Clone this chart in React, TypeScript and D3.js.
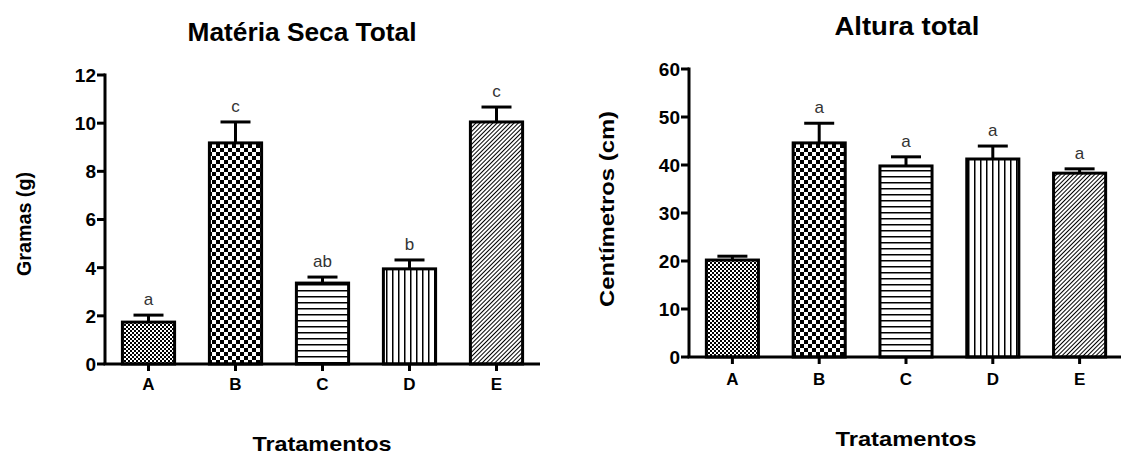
import React from 'react';
import * as d3 from 'd3';

// data
const treatments = ['A', 'B', 'C', 'D', 'E'];
const patternIds = ['finecheck', 'bigcheck', 'hlines', 'vlines', 'diag'];

const dryMassMeans = [1.74, 9.18, 3.36, 3.95, 10.05];
const dryMassErrors = [0.29, 0.87, 0.25, 0.37, 0.62];
const dryMassLetters = ['a', 'c', 'ab', 'b', 'c'];
const dryMassTicks = [0, 2, 4, 6, 8, 10, 12];

const heightMeans = [20.2, 44.6, 39.8, 41.25, 38.3];
const heightErrors = [0.8, 4.1, 1.9, 2.7, 0.9];
const heightLetters = ['', 'a', 'a', 'a', 'a'];
const heightTicks = [0, 10, 20, 30, 40, 50, 60];

const FONT = '"Liberation Sans", Arial, sans-serif';

type PanelProps = {
  means: number[];
  errors: number[];
  letters: string[];
  ticks: number[];
  left: number;
  right: number;
  top: number;
  bottom: number;
  title: string;
  titleX: number;
  titleY: number;
  titleLen: number;
  yLabel: string;
  yLabelX: number;
  yLabelY: number;
  yLabelLen: number;
  xLabelX: number;
  xLabelY: number;
  xLabelLen: number;
  xTickY: number;
};

const BarPanel = (p: PanelProps) => {
  const x = d3.scaleBand<string>()
    .domain(treatments)
    .range([p.left, p.right])
    .paddingInner(0.4)
    .paddingOuter(0.2);
  const y = d3.scaleLinear()
    .domain([0, p.ticks[p.ticks.length - 1]])
    .range([p.bottom, p.top]);
  const bw = x.bandwidth();

  return (
    <g>
      <text x={p.titleX} y={p.titleY} textAnchor="middle" fontFamily={FONT} fontWeight="bold"
        fontSize={25} textLength={p.titleLen} lengthAdjust="spacingAndGlyphs">{p.title}</text>

      {/* bars */}
      {treatments.map((t, i) => {
        const x0 = x(t)!;
        const cx = x0 + bw / 2;
        const yTop = y(p.means[i]);
        const yErr = y(p.means[i] + p.errors[i]);
        return (
          <g key={t}>
            <line x1={cx} x2={cx} y1={yTop} y2={yErr} stroke="#000" strokeWidth={3} />
            <line x1={cx - 15} x2={cx + 15} y1={yErr} y2={yErr} stroke="#000" strokeWidth={3} />
            <rect x={x0} y={yTop} width={bw} height={p.bottom - yTop}
              fill={`url(#${patternIds[i]})`} stroke="#000" strokeWidth={3} />
            {p.letters[i] && (
              <text x={cx} y={yErr - 10} textAnchor="middle" fontFamily={FONT}
                fontSize={17} fill="#333">{p.letters[i]}</text>
            )}
          </g>
        );
      })}

      {/* y axis */}
      <line x1={p.left} x2={p.left} y1={p.top - 1.5} y2={p.bottom} stroke="#000" strokeWidth={3} />
      {p.ticks.map(v => (
        <g key={v}>
          <line x1={p.left - 8} x2={p.left} y1={y(v)} y2={y(v)} stroke="#000" strokeWidth={3} />
          <text x={p.left - 9} y={y(v)} dy="0.36em" textAnchor="end" fontFamily={FONT}
            fontWeight="bold" fontSize={19}>{v}</text>
        </g>
      ))}

      {/* x axis */}
      <line x1={p.left - 1.5} x2={p.right} y1={p.bottom} y2={p.bottom} stroke="#000" strokeWidth={3} />
      {treatments.map(t => {
        const cx = x(t)! + bw / 2;
        return (
          <g key={t}>
            <line x1={cx} x2={cx} y1={p.bottom} y2={p.bottom + 7} stroke="#000" strokeWidth={3} />
            <text x={cx} y={p.xTickY} textAnchor="middle" fontFamily={FONT}
              fontWeight="bold" fontSize={17}>{t}</text>
          </g>
        );
      })}

      <text transform={`translate(${p.yLabelX},${p.yLabelY}) rotate(-90)`} textAnchor="middle"
        fontFamily={FONT} fontWeight="bold" fontSize={21} textLength={p.yLabelLen}
        lengthAdjust="spacingAndGlyphs">{p.yLabel}</text>
      <text x={p.xLabelX} y={p.xLabelY} textAnchor="middle" fontFamily={FONT} fontWeight="bold"
        fontSize={21} textLength={p.xLabelLen} lengthAdjust="spacingAndGlyphs">Tratamentos</text>
    </g>
  );
};

const App = () => (
  <svg width={1121} height={454} style={{ position: 'absolute', left: 0, top: 0, background: '#fff' }}>
    <defs>
      <pattern id="finecheck" patternUnits="userSpaceOnUse" width={4} height={4}>
        <rect width={4} height={4} fill="#fff" />
        <rect width={2} height={2} fill="#000" />
        <rect x={2} y={2} width={2} height={2} fill="#000" />
      </pattern>
      <pattern id="bigcheck" patternUnits="userSpaceOnUse" width={8} height={8}>
        <rect width={8} height={8} fill="#fff" />
        <rect width={4} height={4} fill="#000" />
        <rect x={4} y={4} width={4} height={4} fill="#000" />
      </pattern>
      <pattern id="hlines" patternUnits="userSpaceOnUse" width={6} height={6}>
        <rect width={6} height={6} fill="#fff" />
        <rect y={2} width={6} height={1.5} fill="#000" />
      </pattern>
      <pattern id="vlines" patternUnits="userSpaceOnUse" width={6} height={6}>
        <rect width={6} height={6} fill="#fff" />
        <rect x={2} width={1.5} height={6} fill="#000" />
      </pattern>
      <pattern id="diag" patternUnits="userSpaceOnUse" width={3} height={3} patternTransform="rotate(45)">
        <rect width={3} height={3} fill="#fff" />
        <rect width={1} height={3} fill="#000" />
      </pattern>
    </defs>

    <BarPanel means={dryMassMeans} errors={dryMassErrors} letters={dryMassLetters} ticks={dryMassTicks}
      left={105} right={540} top={75} bottom={364}
      title="Matéria Seca Total" titleX={302} titleY={41} titleLen={229}
      yLabel="Gramas (g)" yLabelX={31} yLabelY={224} yLabelLen={104}
      xLabelX={322} xLabelY={451} xLabelLen={139} xTickY={390} />

    <BarPanel means={heightMeans} errors={heightErrors} letters={heightLetters} ticks={heightTicks}
      left={689} right={1123} top={69} bottom={357}
      title="Altura total" titleX={907} titleY={35} titleLen={145}
      yLabel="Centímetros (cm)" yLabelX={614} yLabelY={209} yLabelLen={196}
      xLabelX={906} xLabelY={446} xLabelLen={141} xTickY={385} />
  </svg>
);

export default App;
